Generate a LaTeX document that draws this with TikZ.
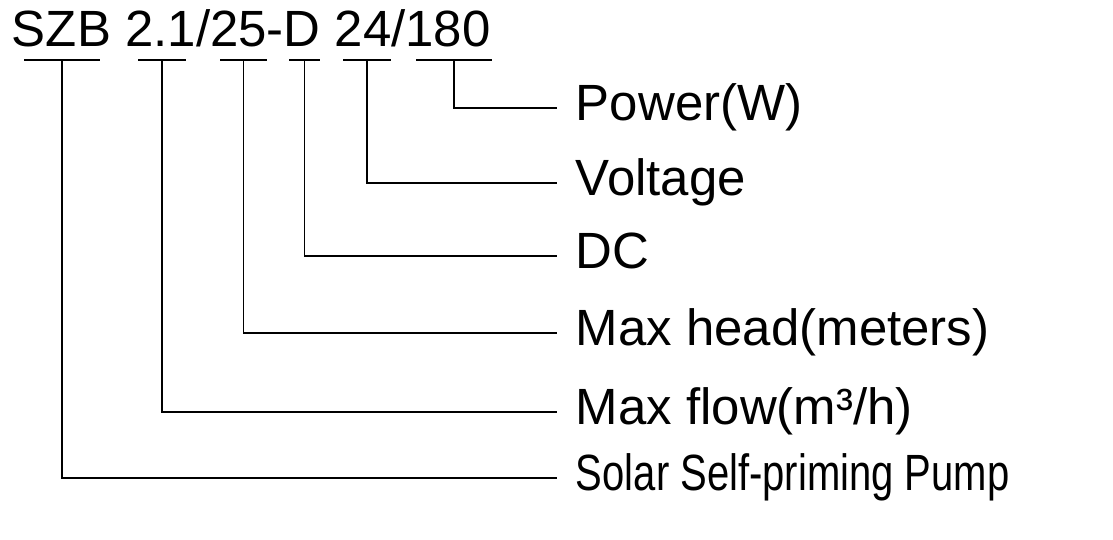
\documentclass[tikz,border=0pt]{standalone}
\usepackage{fontspec}
\setmainfont{Liberation Sans}
\begin{document}
\begin{tikzpicture}[x=0.02cm,y=-0.02cm,line width=1.1pt,
  big/.style={font=\fontsize{29}{34}\selectfont},
  lbl/.style={big,anchor=west,inner xsep=0.36cm,inner ysep=0pt,text height=0.72cm,text depth=0.22cm}]
\useasboundingbox (0,0) rectangle (1113,540);
\node[big,anchor=base west,inner sep=0pt] (code) at (11,47) {SZB 2.1/25-D 24/180};
\foreach \a/\b/\n in {24/100/u1,138/186/u2,220/267/u3,289/320/u4,343/391/u5,416/492/u6} {
  \draw (\a,60) -- (\b,60);
  \coordinate (\n) at ({(\a+\b)/2},60);
}
\node[lbl] (power) at (557,108) {Power(W)};
\node[lbl] (volt) at (557,183) {Voltage};
\node[lbl] (dc) at (557,256) {DC};
\node[lbl] (head) at (557,333) {Max head(meters)};
\node[lbl] (flow) at (557,412) {Max flow(m³/h)};
\node[lbl] (pump) at (557,478) {\scalebox{0.785}[1]{Solar Self-priming Pump}};
\draw (u6) |- (power.west);
\draw (u5) |- (volt.west);
\draw (u4) |- (dc.west);
\draw (u3) |- (head.west);
\draw (u2) |- (flow.west);
\draw (u1) |- (pump.west);
\end{tikzpicture}
\end{document}
